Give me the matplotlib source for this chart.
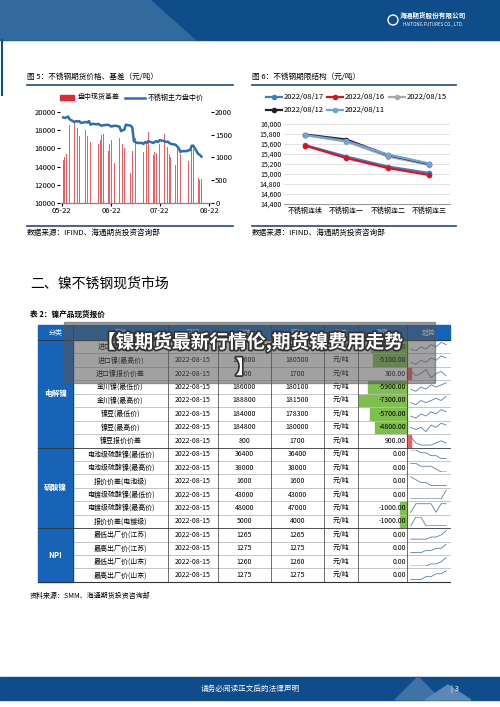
import matplotlib
matplotlib.use("Agg")
import matplotlib.pyplot as plt
import matplotlib.patches as mp
import matplotlib.dates as mdates
import matplotlib.patheffects as pe
import pandas as pd

plt.rcParams['font.family'] = ['Noto Sans CJK SC', 'DejaVu Sans']

# ---------------- data ----------------
dates5 = pd.bdate_range('2022-05-23', '2022-08-17')
price5 = [19400,19350,19400,19500,19200, 18900,19000,18950,19000,18800,
          18900,18850,19000,18600,18700, 18650,18700,18550,18500,18550,
          18600,18500,18400,18450,18500, 18400,17900,18000,18050,18600,
          18500,18300,16800,16700,16600, 16600,16500,16700,16600,16800,
          16600,16700,16800,16700,16900, 16800,16700,16750,16600,16500,
          16400,16200,16000,15600,15700, 15700,15800,15800,16300,16300,
          15400,15300,15100]
basis5 = [950,1000,1080,1600,1720, 1750,1520,1650,1480,1270,
          1600,1480,1250,1340,1200, 1250,1300,1390,1500,1520,
          1150,1300,1390,1250,880, 1420,1480,1290,1200,930,
          650,1150,1220,1420,1320, 1280,1120,1480,1300,1550,
          1050,1110,1100,1120,1300, 1520,1320,1240,1080,1020,
          840,1180,1160,1080,900, 860,920,1100,1250,1180,
          560,500,520]

cats6 = ['不锈钢连续', '不锈钢连一', '不锈钢连二', '不锈钢连三']
series6 = {
    '2022/08/17': [15580, 15350, 15150, 15020],
    '2022/08/16': [15570, 15320, 15120, 14980],
    '2022/08/15': [15780, 15650, 15350, 15180],
    '2022/08/12': [15790, 15690, 15380, 15200],
    '2022/08/11': [15780, 15660, 15390, 15210],
}
colors6 = ['#3d7cc9', '#e0101f', '#a8a8a8', '#222222', '#6fa3dc']

headers = ['分类', '品种', '日期', '前值', '现值', '单位', '涨跌', '趋势']
groups = [('电解镍', 8), ('硫酸镍', 6), ('NPI', 4)]
names = ['进口镍(最低价)', '进口镍(最高价)', '进口镍报价价差', '金川镍(最低价)', '金川镍(最高价)',
         '镍豆(最低价)', '镍豆(最高价)', '镍豆报价价差',
         '电池级硫酸镍(最低价)', '电池级硫酸镍(最高价)', '报价价差(电池级)',
         '电镀级硫酸镍(最低价)', '电镀级硫酸镍(最高价)', '报价价差(电镀级)',
         '最低出厂价(江苏)', '最高出厂价(江苏)', '最低出厂价(山东)', '最高出厂价(山东)']
prev_v = [184200, 185600, 1400, 186000, 188800, 184000, 184800, 800,
          36400, 38000, 1600, 43000, 48000, 5000, 1265, 1275, 1260, 1275]
curr_v = [178800, 180500, 1700, 180100, 181500, 178300, 180000, 1700,
          36400, 38000, 1600, 43000, 47000, 4000, 1265, 1275, 1260, 1275]
change = [-5400, -5100, 300, -5900, -7300, -5700, -4800, 900,
          0, 0, 0, 0, -1000, -1000, 0, 0, 0, 0]
trends = [
    [5,4,6,5,7,6,8,7], [5,4,6,5,7,6,8,7], [6,4,5,7,3,5,6,4], [5,4,6,5,7,6,7,8],
    [5,4,6,5,6,7,6,8], [5,4,6,5,7,6,8,7], [6,5,6,4,7,6,8,7], [8,5,4,4,4,5,6,5],
    [8,8,7,7,6,6,5,5], [8,8,7,7,7,6,5,5], [8,7,6,6,5,5,5,5], [4,4,4,4,4,4,4,8],
    [4,8,8,8,8,4,8,8], [4,8,8,4,4,4,4,4], [4,4,4,4,5,5,6,8], [4,4,4,5,5,6,6,8],
    [4,4,4,4,5,5,6,8], [4,4,4,5,5,6,6,7],
]

BLUE = '#0e4c8a'
fig = plt.figure(figsize=(5, 7.07), dpi=100)
W, H = 500, 707
bg = fig.add_axes([0, 0, 1, 1])
bg.set_xlim(0, W); bg.set_ylim(H, 0); bg.axis('off')

def fa(x0, y0, x1, y1):
    return [x0 / W, 1 - y1 / H, (x1 - x0) / W, (y1 - y0) / H]

# header banner
bg.add_patch(mp.Rectangle((0, 0), W, 40, color=BLUE, zorder=0))
bg.add_patch(mp.Polygon([(0, 0), (150, 0), (195, 40), (0, 40)], color='#336a9e', zorder=1))
bg.text(433, 18, '海通期货股份有限公司', color='white', fontsize=4.8, ha='center', fontweight='bold')
bg.text(433, 26, 'HAITONG FUTURES CO., LTD.', color='white', fontsize=3.2, ha='center')
bg.add_patch(mp.Circle((393, 20), 5, fill=False, ec='white', lw=1))
bg.plot([2, 2], [40, 95], color=BLUE, lw=1.5)

# captions
bg.text(27, 77, '图 5：不锈钢期货价格、基差（元/吨）', fontsize=5.5, va='center')
bg.text(252, 77, '图 6：不锈钢期限结构（元/吨）', fontsize=5.5, va='center')
for x0, x1 in [(27, 233), (252, 456)]:
    bg.plot([x0, x1], [85, 85], color='#1f4e79', lw=1.2)
    bg.plot([x0, x1], [226, 226], color='#1f4e79', lw=1.2)
bg.text(27, 233, '数据来源：IFIND、海通期货投资咨询部', fontsize=5.5, va='center')
bg.text(252, 233, '数据来源：IFIND、海通期货投资咨询部', fontsize=5.5, va='center')

# chart 5
ax5 = fig.add_axes(fa(60, 112, 211, 203))
ax5r = ax5.twinx()
ax5r.bar(dates5, basis5, width=0.45, color='#e33a40', alpha=0.8, label='盘中现货基差')
ax5.plot(dates5, price5, color='#2e6db0', lw=1.8, label='不锈钢主力盘中价', zorder=5)
ax5.set_zorder(ax5r.get_zorder() + 1); ax5.patch.set_visible(False)
ax5.set_ylim(10000, 20000); ax5r.set_ylim(0, 2000)
ax5.set_yticks(range(10000, 20001, 2000)); ax5r.set_yticks(range(0, 2001, 500))
ax5.set_xlim(pd.Timestamp('2022-05-21'), pd.Timestamp('2022-08-23'))
ax5.set_xticks(pd.to_datetime(['2022-05-22', '2022-06-22', '2022-07-22', '2022-08-22']))
ax5.xaxis.set_major_formatter(mdates.DateFormatter('%m-%d'))
for a in (ax5, ax5r):
    a.tick_params(labelsize=5.5, length=2, pad=1)
    for s in ['top', 'left', 'right']:
        a.spines[s].set_visible(False)
ax5.spines['bottom'].set_color('#888')
bg.add_patch(mp.Rectangle((60, 95), 14, 5, color='#e8262e'))
bg.text(78, 97.5, '盘中现货基差', fontsize=5, va='center')
bg.plot([125, 145], [97.5, 97.5], color='#2e6db0', lw=1.8)
bg.text(148, 97.5, '不锈钢主力盘中价', fontsize=5, va='center')

# chart 6
ax6 = fig.add_axes(fa(284, 124, 450, 204))
xs = range(len(cats6))
for (lab, vals), c in zip(series6.items(), colors6):
    ax6.plot(xs, vals, color=c, lw=1.6, marker='o', ms=3, label=lab)
ax6.set_ylim(14400, 16000)
ax6.set_yticks(range(14400, 16001, 200))
ax6.set_yticklabels([f'{v:,}' for v in range(14400, 16001, 200)])
ax6.set_xlim(-0.5, 3.5)
ax6.set_xticks(list(xs)); ax6.set_xticklabels(cats6)
ax6.tick_params(labelsize=5, length=0, pad=2)
ax6.grid(axis='y', color='#dddddd', lw=0.6)
for s in ['top', 'left', 'right']:
    ax6.spines[s].set_visible(False)
ax6.spines['bottom'].set_color('#999')
leg_pos = [(266, 97), (327, 97), (389, 97), (266, 110), (327, 110)]
for (lab, c), (lx, ly) in zip(zip(series6.keys(), colors6), leg_pos):
    bg.plot([lx, lx + 16], [ly, ly], color=c, lw=1.6)
    bg.plot([lx + 8], [ly], color=c, marker='o', ms=3)
    bg.text(lx + 18, ly, lab, fontsize=5.5, va='center')

# section title
bg.text(30, 284, '二、镍不锈钢现货市场', fontsize=10, va='center')
bg.text(30, 314, '表 2：镍产品现货报价', fontsize=5.5, va='center', fontweight='bold')

# table
colx = [38, 73, 168, 218, 271, 324, 358, 407, 450]
top, hh, rh = 325, 15, 13.44
bg.add_patch(mp.Rectangle((38, top), 412, hh, color='#1663b8'))
for i, h in enumerate(headers):
    bg.text((colx[i] + colx[i + 1]) / 2, top + hh / 2, h, fontsize=5, color='white', ha='center', va='center')
y = top + hh
for g, n in groups:
    bg.add_patch(mp.Rectangle((38, y), 35, n * rh, color='#1663b8'))
    bg.text(55.5, y + n * rh / 2, g, fontsize=5.5, color='white', ha='center', va='center', fontweight='bold')
    bg.plot([38, 450], [y, y], color='#333', lw=0.6)
    y += n * rh
bg.plot([38, 450], [y, y], color='#333', lw=0.8)
scale = 48 / 7300
for r in range(18):
    yc = top + hh + (r + 0.5) * rh
    y0 = top + hh + r * rh
    if r not in (0, 8, 14):
        bg.plot([73, 450], [y0, y0], color='#999', lw=0.4)
    ch = change[r]
    if ch < 0:
        bg.add_patch(mp.Rectangle((407 + ch * scale, y0 + 1), -ch * scale, rh - 2, color='#7fbf4d'))
    elif ch > 0:
        bg.add_patch(mp.Rectangle((407, y0 + 1), 4, rh - 2, color='#f06060'))
    vals = [names[r], '2022-08-15', str(prev_v[r]), str(curr_v[r]), '元/吨']
    for i, v in enumerate(vals):
        bg.text((colx[i + 1] + colx[i + 2]) / 2, yc, v, fontsize=5, ha='center', va='center')
    bg.text(406, yc, f'{ch:.2f}', fontsize=5, ha='right', va='center')
    sa = fig.add_axes(fa(409, y0 + 2, 448, y0 + rh - 2))
    sa.plot(trends[r], color='#5a7fa8', lw=0.6)
    sa.axis('off')
for x in colx[1:-1]:
    bg.plot([x, x], [top, top + hh + 18 * rh], color='#333', lw=0.5)
bg.text(30, 596, '资料来源：SMM、海通期货投资咨询部', fontsize=5, va='center')

# footer
bg.add_patch(mp.Rectangle((0, 677), W, 23, color=BLUE))
bg.add_patch(mp.Polygon([(395, 700), (418, 677), (441, 700)], color='#3f72a6'))
bg.add_patch(mp.Polygon([(425, 700), (448, 685), (471, 700)], color='#5b88b5'))
bg.text(250, 689, '请务必阅读正文后的法律声明', color='white', fontsize=5.5, ha='center', va='center')
bg.text(455, 689, '| 3', color='white', fontsize=5.5, ha='center', va='center')

# overlay banner
ov = fig.add_axes([0, 0, 1, 1])
ov.set_xlim(0, W); ov.set_ylim(H, 0); ov.axis('off'); ov.patch.set_visible(False)
ov.add_patch(mp.Rectangle((64, 322), 371, 61, color='#555555', alpha=0.55))
st = [pe.withStroke(linewidth=2.5, foreground='#333333')]
ov.text(250, 342, '【镍期货最新行情伦,期货镍费用走势', fontsize=13.5, color='white',
        fontweight='bold', ha='center', va='center', path_effects=st)
ov.text(245, 368, '】', fontsize=13.5, color='white', fontweight='bold', ha='center',
        va='center', path_effects=st)

fig.savefig('out.png', dpi=100)
